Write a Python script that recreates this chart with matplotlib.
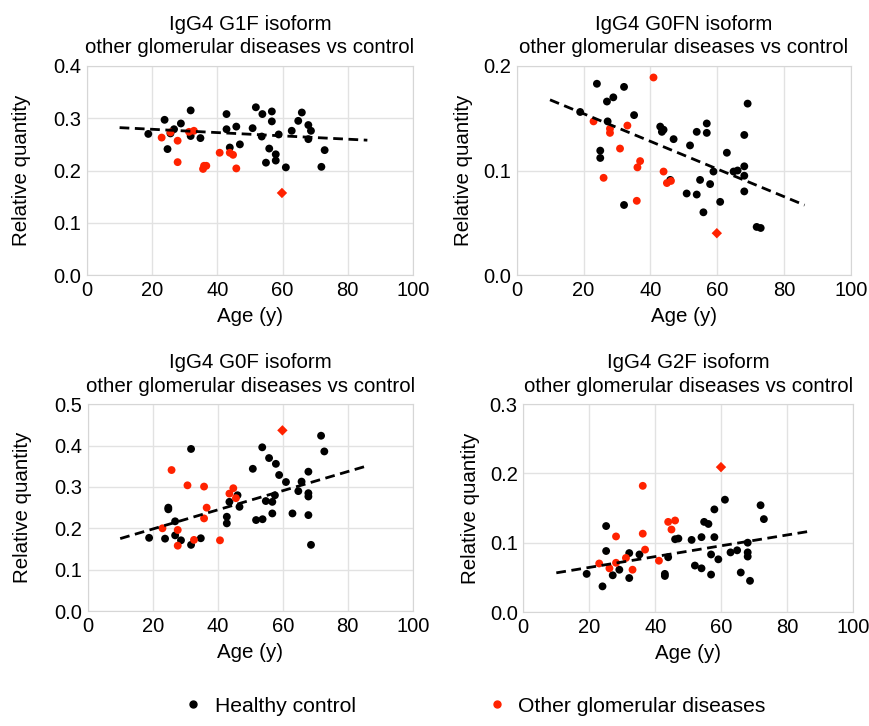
import numpy as np
import matplotlib
matplotlib.use("Agg")
import matplotlib.pyplot as plt
from matplotlib.lines import Line2D

plt.rcParams['font.family'] = ['Liberation Sans', 'DejaVu Sans']

RED = '#ff2200'

# IgG4 G1F
g1f_ctrl_age = [18.8, 23.8, 25.6, 26.7, 28.8, 24.7, 31.8, 31.8, 34.8, 42.8, 42.8, 45.8,
                43.8, 46.9, 50.8, 51.8, 53.8, 56.7, 56.7, 53.6, 58.8, 55.9, 57.9, 57.9,
                54.9, 61.0, 62.8, 64.8, 65.9, 67.9, 68.7, 67.9, 72.9, 71.9]
g1f_ctrl_val = [0.270, 0.297, 0.271, 0.279, 0.290, 0.241, 0.315, 0.266, 0.262, 0.308, 0.279, 0.284,
                0.244, 0.250, 0.281, 0.321, 0.308, 0.313, 0.294, 0.265, 0.269, 0.242, 0.231, 0.219,
                0.215, 0.206, 0.276, 0.295, 0.311, 0.287, 0.276, 0.260, 0.239, 0.207]
g1f_gd_age = [22.9, 25.6, 27.8, 27.8, 31.3, 32.8, 35.9, 36.6, 35.6, 40.7, 43.8, 44.8, 45.8]
g1f_gd_val = [0.263, 0.273, 0.257, 0.216, 0.274, 0.276, 0.209, 0.209, 0.203, 0.234, 0.234, 0.230, 0.204]
g1f_marked = (59.8, 0.157)
g1f_fit = (0.2852, -0.000316)

# IgG4 G0FN
g0fn_ctrl_age = [19.0, 24.0, 27.0, 28.9, 32.1, 35.1, 27.2, 25.0, 25.0, 32.1, 42.9, 43.4,
                 43.9, 46.9, 51.8, 53.8, 56.8, 56.8, 45.9, 50.8, 53.8, 54.8, 57.8, 58.8,
                 55.8, 60.8, 62.8, 64.8, 66.0, 68.0, 68.0, 68.0, 69.0, 68.0, 71.7, 72.9]
g0fn_ctrl_val = [0.156, 0.183, 0.166, 0.170, 0.180, 0.153, 0.147, 0.119, 0.112, 0.067, 0.142, 0.137,
                 0.139, 0.130, 0.124, 0.137, 0.145, 0.136, 0.091, 0.078, 0.077, 0.091, 0.087, 0.099,
                 0.060, 0.070, 0.117, 0.099, 0.100, 0.104, 0.095, 0.134, 0.164, 0.080, 0.046, 0.045]
g0fn_gd_age = [23.0, 27.9, 27.9, 33.1, 30.9, 26.0, 36.9, 36.1, 35.9, 40.9, 43.9, 44.9, 46.1]
g0fn_gd_val = [0.147, 0.140, 0.136, 0.143, 0.121, 0.093, 0.109, 0.103, 0.071, 0.189, 0.099, 0.088, 0.090]
g0fn_marked = (59.8, 0.040)
g0fn_fit = (0.1809, -0.001326)

# IgG4 G0F
g0f_ctrl_age = [18.9, 23.8, 24.8, 24.8, 26.9, 26.9, 28.7, 31.8, 31.8, 34.8, 42.8, 42.8,
                43.6, 46.1, 46.7, 50.8, 51.8, 53.8, 53.7, 55.8, 57.9, 54.8, 56.8, 57.6,
                56.8, 58.9, 61.0, 63.0, 64.8, 65.8, 67.9, 67.9, 67.9, 67.9, 68.7, 71.8, 72.8]
g0f_ctrl_val = [0.177, 0.175, 0.250, 0.246, 0.217, 0.183, 0.171, 0.160, 0.392, 0.176, 0.228, 0.212,
                0.264, 0.280, 0.252, 0.344, 0.220, 0.222, 0.396, 0.370, 0.356, 0.266, 0.264, 0.280,
                0.236, 0.329, 0.312, 0.236, 0.290, 0.313, 0.337, 0.285, 0.277, 0.232, 0.160, 0.424, 0.386]
g0f_gd_age = [23.0, 25.8, 27.7, 27.7, 30.7, 32.7, 35.8, 36.6, 35.8, 40.7, 43.6, 44.8, 45.6]
g0f_gd_val = [0.200, 0.341, 0.196, 0.158, 0.304, 0.172, 0.301, 0.250, 0.224, 0.171, 0.284, 0.297, 0.273]
g0f_marked = (59.9, 0.437)
g0f_fit = (0.152, 0.002316)

# IgG4 G2F
g2f_ctrl_age = [19.2, 24.0, 25.1, 25.1, 27.1, 29.1, 32.1, 32.1, 35.2, 42.9, 42.9, 43.9,
                46.0, 47.0, 51.0, 52.0, 54.0, 54.0, 54.8, 56.1, 56.9, 56.9, 57.9, 57.9,
                59.1, 61.1, 62.8, 64.8, 65.9, 68.0, 68.0, 68.0, 68.7, 71.9, 72.9]
g2f_ctrl_val = [0.055, 0.037, 0.124, 0.088, 0.053, 0.061, 0.049, 0.085, 0.083, 0.055, 0.052, 0.079,
                0.105, 0.106, 0.104, 0.067, 0.063, 0.108, 0.130, 0.127, 0.054, 0.083, 0.108, 0.148,
                0.076, 0.162, 0.086, 0.089, 0.057, 0.100, 0.086, 0.080, 0.045, 0.154, 0.134]
g2f_gd_age = [23.0, 26.1, 28.1, 28.1, 31.1, 33.1, 36.2, 36.2, 36.9, 41.1, 43.9, 46.0, 44.9]
g2f_gd_val = [0.070, 0.063, 0.109, 0.071, 0.078, 0.061, 0.182, 0.113, 0.090, 0.074, 0.130, 0.132, 0.119]
g2f_marked = (59.9, 0.209)
g2f_fit = (0.0487, 0.000781)

fit_range = (10, 86)

panels = [
    ("IgG4 G1F isoform", g1f_ctrl_age, g1f_ctrl_val, g1f_gd_age, g1f_gd_val, g1f_marked, g1f_fit, 0.4,
     [0.1, 0.6212, 0.3747, 0.2879]),
    ("IgG4 G0FN isoform", g0fn_ctrl_age, g0fn_ctrl_val, g0fn_gd_age, g0fn_gd_val, g0fn_marked, g0fn_fit, 0.2,
     [0.5937, 0.6212, 0.3850, 0.2879]),
    ("IgG4 G0F isoform", g0f_ctrl_age, g0f_ctrl_val, g0f_gd_age, g0f_gd_val, g0f_marked, g0f_fit, 0.5,
     [0.1008, 0.1584, 0.3736, 0.2847]),
    ("IgG4 G2F isoform", g2f_ctrl_age, g2f_ctrl_val, g2f_gd_age, g2f_gd_val, g2f_marked, g2f_fit, 0.3,
     [0.6015, 0.1570, 0.3793, 0.2865]),
]

fig = plt.figure(figsize=(8.7, 7.26), dpi=100)

for title, ca, cv, ga, gv, marked, fit, ymax, pos in panels:
    ax = fig.add_axes(pos)
    ax.scatter(ca, cv, s=32, color='black', edgecolors='none', zorder=3)
    ax.scatter(ga, gv, s=32, color=RED, edgecolors='none', zorder=3)
    ax.scatter([marked[0]], [marked[1]], s=28, marker='D', color=RED, edgecolors='none', zorder=3)
    xs = np.array(fit_range)
    ax.plot(xs, fit[0] + fit[1] * xs, color='black', lw=2.0, ls=(0, (3.5, 2)), zorder=4)

    ax.set_xlim(0, 100)
    ax.set_ylim(0, ymax)
    ax.set_xticks(np.arange(0, 101, 20))
    ticks = np.arange(0, ymax + 0.001, 0.1)
    ax.set_yticks(ticks)
    ax.set_yticklabels([f"{v:.1f}" for v in ticks])
    ax.grid(True, color='#e2e2e2', lw=1)
    ax.set_axisbelow(True)
    for sp in ax.spines.values():
        sp.set_color('#d6d6d6')
    ax.tick_params(length=0, labelsize=14.5, pad=4)
    ax.set_xlabel("Age (y)", fontsize=14.8, labelpad=5)
    # left column has its y label set further out
    ax.set_ylabel("Relative quantity", fontsize=14.8, labelpad=16 if pos[0] < 0.5 else 7)
    ax.set_title(title + "\nother glomerular diseases vs control", fontsize=14.8, pad=9,
                 linespacing=1.3)

handles = [
    Line2D([], [], marker='o', ls='none', color='black', markersize=5, label='Healthy control'),
    Line2D([], [], marker='o', ls='none', color=RED, markersize=5, label='Other glomerular diseases'),
]
fig.legend(handles=handles, loc='lower center', bbox_to_anchor=(0.545, -0.012), ncol=2,
           frameon=False, fontsize=15.2, columnspacing=6.2, handlelength=1.0, handletextpad=0.5)

fig.savefig("out.png", dpi=100)
